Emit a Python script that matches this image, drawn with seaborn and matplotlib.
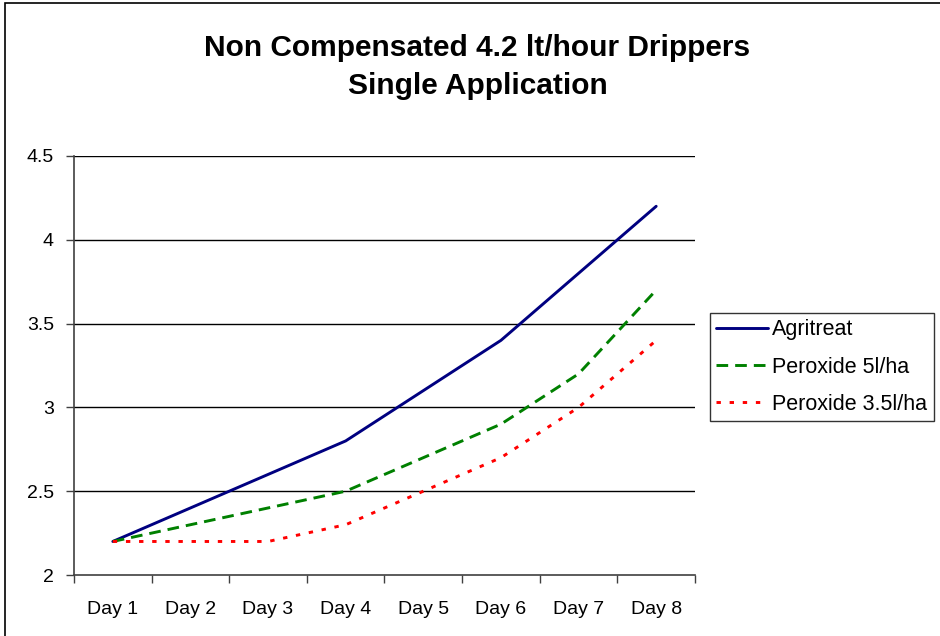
import matplotlib
matplotlib.use("Agg")
import matplotlib.pyplot as plt
import seaborn as sns
import pandas as pd
from matplotlib.patches import Rectangle
from matplotlib.ticker import FixedLocator, NullFormatter

# data
days = ["Day 1", "Day 2", "Day 3", "Day 4", "Day 5", "Day 6", "Day 7", "Day 8"]
agritreat = [2.2, 2.4, 2.6, 2.8, 3.1, 3.4, 3.8, 4.2]
peroxide_5 = [2.2, 2.3, 2.4, 2.5, 2.7, 2.9, 3.2, 3.7]
peroxide_35 = [2.2, 2.2, 2.2, 2.3, 2.5, 2.7, 3.0, 3.4]
series_names = ["Agritreat", "Peroxide 5l/ha", "Peroxide 3.5l/ha"]
y_ticks = [2, 2.5, 3, 3.5, 4, 4.5]

sns.set_style("white")
plt.rcParams["font.family"] = ["Liberation Sans", "DejaVu Sans"]
plt.rcParams["text.color"] = "black"
plt.rcParams["xtick.color"] = "black"
plt.rcParams["ytick.color"] = "black"

rows = []
for name, vals in zip(series_names, [agritreat, peroxide_5, peroxide_35]):
    for i, v in enumerate(vals):
        rows.append({"day": i + 1, "value": v, "series": name})
df = pd.DataFrame(rows)

palette = {"Agritreat": "#000080", "Peroxide 5l/ha": "#008000", "Peroxide 3.5l/ha": "#FF0000"}
dashes = {"Agritreat": "", "Peroxide 5l/ha": (4.0, 2.4), "Peroxide 3.5l/ha": (1.5, 3.0)}

fig = plt.figure(figsize=(9.4, 6.36), dpi=100)
ax = fig.add_axes([74 / 940, 1 - 575 / 636, (695 - 74) / 940, (575 - 156) / 636])

# grid lines first, under the data
for y in y_ticks[1:]:
    ax.axhline(y, color="black", lw=1.0, zorder=1)

sns.lineplot(data=df, x="day", y="value", hue="series", style="series",
             palette=palette, dashes=dashes, lw=2.1, ax=ax, zorder=3,
             hue_order=series_names, style_order=series_names)

ax.set_xlim(0.5, 8.5)
ax.set_ylim(2, 4.5)
ax.set_yticks(y_ticks)
ax.set_yticklabels(["2", "2.5", "3", "3.5", "4", "4.5"])
ax.set_xticks(range(1, 9))
ax.set_xticklabels(days)
ax.xaxis.set_minor_locator(FixedLocator([i + 0.5 for i in range(0, 9)]))
ax.xaxis.set_minor_formatter(NullFormatter())
ax.tick_params(axis="x", which="major", length=0, pad=19, labelsize=14)
ax.tick_params(axis="x", which="minor", length=5.5, width=1, color="#404040", direction="out", bottom=True)
ax.tick_params(axis="y", length=5.5, width=1, color="#404040", direction="out", left=True, labelsize=14, pad=9)
ax.set_xlabel("")
ax.set_ylabel("")

for s in ["top", "right"]:
    ax.spines[s].set_visible(False)
for s in ["left", "bottom"]:
    ax.spines[s].set_color("#404040")
    ax.spines[s].set_linewidth(1.2)

leg = ax.legend(loc="upper left", bbox_to_anchor=(710 / 940, 1 - 313 / 636),
                bbox_transform=fig.transFigure, fontsize=15.5, frameon=True,
                fancybox=False, edgecolor="black", borderaxespad=0,
                handlelength=2.4, handletextpad=0.2, borderpad=0.3, labelspacing=0.75)
leg.get_frame().set_linewidth(1.0)
leg.set_title(None)

fig.text(0.508, 1 - 48 / 636, "Non Compensated 4.2 lt/hour Drippers", ha="center", va="center",
         fontsize=21.5, fontweight="bold")
fig.text(0.508, 1 - 86 / 636, "Single Application", ha="center", va="center",
         fontsize=21.5, fontweight="bold")

# outer chart-area border
fig.patches.append(Rectangle((5 / 940, -0.02), 1.05, 1 - 3 / 636 + 0.02, transform=fig.transFigure,
                             fill=False, edgecolor="black", lw=1.2))

fig.savefig("out.png", dpi=100)
